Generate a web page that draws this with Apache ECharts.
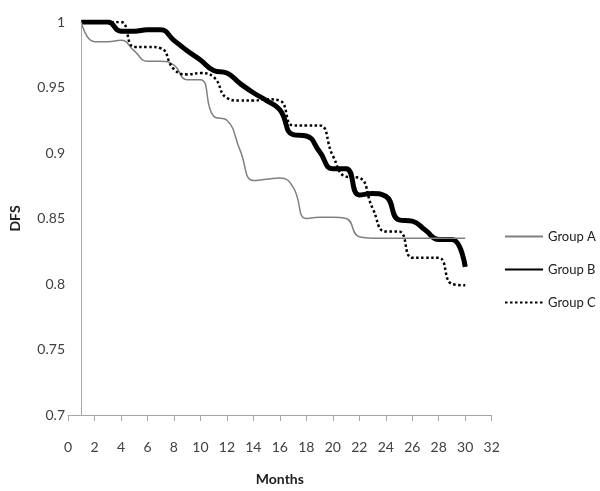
<!DOCTYPE html>
<html>
<head>
<meta charset="utf-8">
<script src="https://cdn.jsdelivr.net/npm/echarts@6/dist/echarts.min.js"></script>
<style>
  html, body { margin: 0; padding: 0; background: #fff; }
  #chart { width: 600px; height: 491px; }
</style>
</head>
<body>
<div id="chart"></div>
<script>
var months = [1, 2, 3, 4, 5, 6, 7, 8, 9, 10, 11, 12, 13, 14, 15, 16, 17, 18, 19, 20, 21, 22, 23, 24, 25, 26, 27, 28, 29, 30];
var groupA = [1.0, 0.985, 0.985, 0.986, 0.978, 0.970, 0.970, 0.967, 0.956, 0.956, 0.928, 0.925, 0.902, 0.879, 0.880, 0.881, 0.874, 0.850, 0.851, 0.851, 0.850, 0.836, 0.835, 0.835, 0.835, 0.835, 0.835, 0.835, 0.835, 0.835];
var groupB = [1.0, 1.0, 1.0, 0.993, 0.993, 0.994, 0.994, 0.986, 0.978, 0.971, 0.963, 0.961, 0.953, 0.946, 0.940, 0.933, 0.914, 0.913, 0.901, 0.888, 0.888, 0.868, 0.869, 0.867, 0.849, 0.848, 0.841, 0.834, 0.834, 0.813];
var groupC = [1.0, 1.0, 1.0, 1.0, 0.981, 0.981, 0.980, 0.964, 0.960, 0.961, 0.958, 0.942, 0.940, 0.940, 0.941, 0.940, 0.921, 0.921, 0.921, 0.898, 0.882, 0.881, 0.858, 0.840, 0.840, 0.820, 0.820, 0.820, 0.800, 0.799];
var names = ['Group A', 'Group B', 'Group C'];

function pairs(vals) {
  return months.map(function (m, i) { return [m, vals[i]] })
}

var labelFont = { color: '#404040', fontSize: 14, fontFamily: 'Lato' }

var myChart = echarts.init(document.getElementById('chart'))
myChart.setOption({
  animation: false,
  backgroundColor: '#fff',
  grid: { left: 56.5, right: 108.3, top: 22, bottom: 76, containLabel: false },
  legend: {
    orient: 'vertical',
    left: 499,
    top: 225,
    itemWidth: 38,
    itemHeight: 14,
    itemGap: 20,
    itemStyle: { opacity: 0 },
    textStyle: { color: '#202020', fontSize: 13, fontFamily: 'Lato' },
    data: names
  },
  xAxis: {
    type: 'value',
    min: 0,
    max: 32,
    interval: 2,
    name: 'Months',
    nameLocation: 'middle',
    nameGap: 57,
    nameTextStyle: { color: '#202020', fontSize: 14, fontWeight: 'bold', fontFamily: 'Lato' },
    axisLine: { show: true, onZero: false, lineStyle: { color: '#a6a6a6', width: 1 } },
    axisTick: { show: true, length: 6, lineStyle: { color: '#a6a6a6' } },
    axisLabel: Object.assign({ margin: 25 }, labelFont),
    splitLine: { show: false }
  },
  yAxis: {
    type: 'value',
    min: 0.7,
    max: 1,
    interval: 0.05,
    name: 'DFS',
    nameLocation: 'middle',
    nameRotate: 90,
    nameGap: 46,
    nameTextStyle: { color: '#202020', fontSize: 14, fontWeight: 'bold', fontFamily: 'Lato' },
    axisLine: { show: false },
    axisTick: { show: false },
    axisLabel: Object.assign({ margin: 3 }, labelFont),
    splitLine: { show: false }
  },
  series: [
    {
      name: names[0],
      type: 'line',
      data: pairs(groupA),
      smooth: 0.5,
      symbol: 'none',
      z: 3,
      lineStyle: { color: '#808080', width: 1.5 },
      itemStyle: { color: '#808080' },
      markLine: {
        silent: true,
        symbol: 'none',
        label: { show: false },
        lineStyle: { color: '#a6a6a6', width: 1, type: 'solid' },
        data: [{ xAxis: 1 }]
      }
    },
    {
      name: names[1],
      type: 'line',
      data: pairs(groupB),
      smooth: 0.5,
      symbol: 'none',
      z: 2,
      lineStyle: { color: '#000', width: 5 },
      itemStyle: { color: '#000' }
    },
    {
      name: names[2],
      type: 'line',
      data: pairs(groupC),
      smooth: 0.5,
      symbol: 'none',
      z: 4,
      lineStyle: { color: '#000', width: 2.5, type: [2.5, 2.5] },
      itemStyle: { color: '#000' }
    }
  ]
})
</script>
</body>
</html>
